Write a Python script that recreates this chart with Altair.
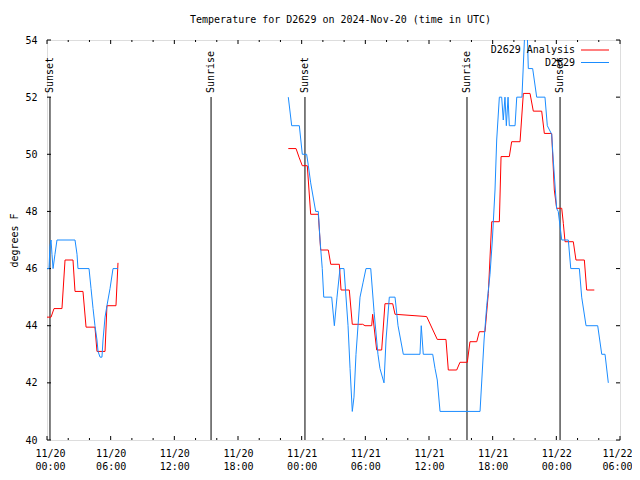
import altair as alt
import pandas as pd

# ---- data (hours since 2024-11-20 00:00 UTC, degrees F) ----
ana1_h = [0.0, 0.38, 0.66, 1.41, 1.70, 2.45, 2.64, 3.39, 3.68, 4.52, 4.71, 5.47, 5.65, 6.50, 6.69]
ana1_t = [44.3, 44.3, 44.6, 44.6, 46.3, 46.3, 45.2, 45.2, 43.95, 43.95, 43.1, 43.1, 44.7, 44.7, 46.2]

ana2_h = [22.74, 23.47, 23.75, 24.06, 24.53, 24.85, 25.57, 25.79, 26.51, 26.74, 27.55, 27.71, 28.49,
          28.77, 29.75, 29.97, 30.60, 30.69, 31.07, 31.54, 31.85, 32.58, 32.80, 34.68, 35.78, 36.78,
          37.60, 37.82, 38.61, 38.92, 39.61, 39.86, 40.50, 40.74, 41.28, 41.59, 41.91, 42.63, 42.79,
          43.57, 43.79, 44.58, 44.89, 45.52, 45.83, 46.62, 46.87, 47.56, 47.81, 48.03, 48.51, 48.66,
          48.82, 49.60, 49.85, 50.64, 50.86, 51.58]
ana2_t = [50.2, 50.2, 49.9, 49.6, 49.6, 47.9, 47.9, 46.65, 46.65, 46.15, 46.15, 45.25, 45.25,
          44.05, 44.05, 44.0, 44.0, 44.4, 43.15, 43.15, 44.77, 44.77, 44.4, 44.35, 44.32, 43.52,
          43.52, 42.45, 42.45, 42.72, 42.72, 43.44, 43.44, 43.79, 43.79, 45.13, 47.64, 47.64, 49.92,
          49.92, 50.44, 50.44, 52.13, 52.13, 51.51, 51.51, 50.73, 50.73, 48.75, 48.11, 48.11, 47.58,
          46.94, 46.94, 46.3, 46.3, 45.25, 45.25]

obs1_h = [0.0, 0.19, 0.28, 0.38, 0.47, 0.57, 0.75, 0.94, 2.64, 2.83, 2.92, 3.96, 4.15, 4.34, 4.52,
          4.71, 4.81, 5.0, 5.18, 5.28, 5.47, 5.65, 5.94, 6.22, 6.69]
obs1_t = [46.0, 46.0, 46.8, 47.0, 46.5, 46.0, 46.5, 47.0, 47.0, 46.5, 46.0, 46.0, 45.3, 44.6, 44.0,
          43.5, 43.1, 42.9, 42.9, 43.5, 44.3, 44.7, 45.3, 46.0, 46.0]

obs2_h = [22.74, 23.06, 23.78, 24.06, 24.47, 24.63, 24.85, 25.32, 25.57, 25.73, 25.94, 26.08, 26.83,
          27.08, 27.33, 27.61, 27.99, 28.37, 28.56, 28.77, 28.93, 29.12, 29.50, 29.78, 30.06, 30.51,
          30.82, 31.19, 31.38, 31.76, 31.95, 32.26, 32.80, 33.08, 33.58, 35.15, 35.27, 35.46, 36.35,
          36.57, 36.78, 37.04, 40.81, 41.19, 41.44, 41.75, 41.97, 42.22, 42.38, 42.63, 42.85, 43.0,
          43.16, 43.29, 43.45, 43.57, 44.11, 44.27, 44.76, 45.05, 45.24, 45.36, 45.77, 46.15, 46.93,
          47.15, 47.56, 47.71, 48.03, 48.18, 48.51, 49.13, 49.36, 50.17, 50.39, 50.80, 51.90, 52.28,
          52.59, 52.90]
obs2_t = [52.0, 51.0, 51.0, 50.0, 50.0, 49.6, 49.0, 48.0, 48.0, 47.0, 46.0, 45.0, 45.0,
          44.0, 45.0, 46.0, 46.0, 44.0, 42.5, 41.0, 41.5, 43.0, 45.0, 45.5, 46.0, 46.0,
          44.5, 43.0, 42.5, 42.0, 43.5, 45.0, 45.0, 44.0, 43.0, 43.0, 44.0, 43.0, 43.0,
          42.5, 42.1, 41.0, 41.0, 43.5, 44.7, 45.8, 47.0, 48.75, 50.5, 52.0, 52.0, 51.2,
          52.0, 51.0, 52.0, 51.0, 51.0, 52.0, 52.0, 54.5, 54.5, 53.0, 53.0, 52.0, 52.0,
          51.0, 50.7, 49.8, 48.1, 48.0, 47.0, 47.0, 46.0, 46.0, 45.0, 44.0, 44.0, 43.0,
          43.0, 42.0]

sun_h = [0.28, 15.46, 24.31, 39.58, 48.35]
sun_label = ["Sunset", "Sunrise", "Sunset", "Sunrise", "Sunset"]

series_names = ["D2629 Analysis", "D2629"]
series_colors = ["#ff0000", "#1a8cff"]

x_major = list(range(0, 55, 6))
x_minor = [h for h in range(0, 55, 2) if h % 6 != 0]
y_major = list(range(40, 55, 2))

# ---- build tables ----
rows = []
for name, seg, hs, ts in [
    (series_names[0], 1, ana1_h, ana1_t),
    (series_names[0], 2, ana2_h, ana2_t),
    (series_names[1], 1, obs1_h, obs1_t),
    (series_names[1], 2, obs2_h, obs2_t),
]:
    for h, t in zip(hs, ts):
        rows.append({"series": name, "seg": f"{name}-{seg}", "h": h, "temp": t})
df = pd.DataFrame(rows)
sun_df = pd.DataFrame({"h": sun_h, "label": sun_label})
xmaj_df = pd.DataFrame({"h": x_major})
xmin_df = pd.DataFrame({"h": x_minor})
ymaj_df = pd.DataFrame({"temp": y_major})

W, H = 573, 400
FONT = "DejaVu Sans Mono"

xscale = alt.Scale(domain=[0, 54], nice=False, zero=False)
yscale = alt.Scale(domain=[40, 54], nice=False, zero=False)

x_axis = alt.Axis(
    values=x_major,
    labelExpr="['11/' + (20 + floor(datum.value / 24)), ((datum.value % 24) < 10 ? '0' : '') + (datum.value % 24) + ':00']",
    ticks=False, tickSize=0, domain=False, grid=False, title=None,
    labelFont=FONT, labelFontSize=10, labelPadding=8, labelAngle=0,
    labelLineHeight=13, labelBaseline="top", labelColor="black",
    labelFlush=1, labelFlushOffset=12,
)
y_axis = alt.Axis(
    values=y_major, ticks=False, tickSize=0, domain=False, grid=False,
    title="degrees F", titleFont=FONT, titleFontSize=10, titleFontWeight="normal",
    titleAngle=270, titleX=-33, titleY=200, titleAlign="center", titleBaseline="middle",
    labelFont=FONT, labelFontSize=10, labelPadding=10, labelColor="black", titleColor="black",
)

X = alt.X("h:Q", scale=xscale, axis=x_axis)
Y = alt.Y("temp:Q", scale=yscale, axis=y_axis)

color = alt.Color("series:N", scale=alt.Scale(domain=series_names, range=series_colors), legend=None)

sun_lines = alt.Chart(sun_df).mark_rule(color="black", strokeWidth=1).encode(
    x=X, y=alt.value(57), y2=alt.value(H)
)
sun_text = alt.Chart(sun_df).mark_text(
    angle=270, align="left", baseline="middle", font=FONT, fontSize=10, color="black"
).encode(x=X, y=alt.value(53), text="label:N")

lines = alt.Chart(df).mark_line(strokeWidth=1, clip=True, interpolate="linear").encode(
    x=X, y=Y, color=color, detail="seg:N", order=alt.Order("h:Q")
)

tick_bot = alt.Chart(xmaj_df).mark_rule(color="black").encode(x=X, y=alt.value(H), y2=alt.value(H - 4))
tick_top = alt.Chart(xmaj_df).mark_rule(color="black").encode(x=X, y=alt.value(0), y2=alt.value(4))
mtick_bot = alt.Chart(xmin_df).mark_rule(color="black").encode(x=X, y=alt.value(H), y2=alt.value(H - 2))
mtick_top = alt.Chart(xmin_df).mark_rule(color="black").encode(x=X, y=alt.value(0), y2=alt.value(2))
tick_left = alt.Chart(ymaj_df).mark_rule(color="black").encode(y=Y, x=alt.value(0), x2=alt.value(4))
tick_right = alt.Chart(ymaj_df).mark_rule(color="black").encode(y=Y, x=alt.value(W), x2=alt.value(W - 4))

# manual legend (label right-aligned, line sample to the right)
legend_layers = []
for i, name in enumerate(series_names):
    ldf = pd.DataFrame({"series": [name]})
    ypix = 10 + 12.5 * i
    legend_layers.append(
        alt.Chart(ldf).mark_text(align="right", baseline="middle", font=FONT, fontSize=10, color="black")
        .encode(x=alt.value(528), y=alt.value(ypix), text="series:N")
    )
    legend_layers.append(
        alt.Chart(ldf).mark_rule(strokeWidth=1, color=series_colors[i])
        .encode(x=alt.value(534), x2=alt.value(562), y=alt.value(ypix))
    )

chart = alt.layer(
    sun_lines, sun_text, tick_bot, tick_top, mtick_bot, mtick_top, tick_left, tick_right,
    lines, *legend_layers,
).properties(
    width=W, height=H,
    title=alt.TitleParams(
        "Temperature for D2629 on 2024-Nov-20 (time in UTC)",
        font=FONT, fontSize=10, fontWeight="normal", anchor="middle", offset=10, dx=7, color="black",
    ),
    autosize=alt.AutoSizeParams(type="none"),
    padding={"left": 39, "top": 32, "right": 12, "bottom": 32},
).configure_view(stroke="black", strokeWidth=1).configure(background="white")

chart.save("out.html", embed_options={"renderer": "svg", "actions": False})
